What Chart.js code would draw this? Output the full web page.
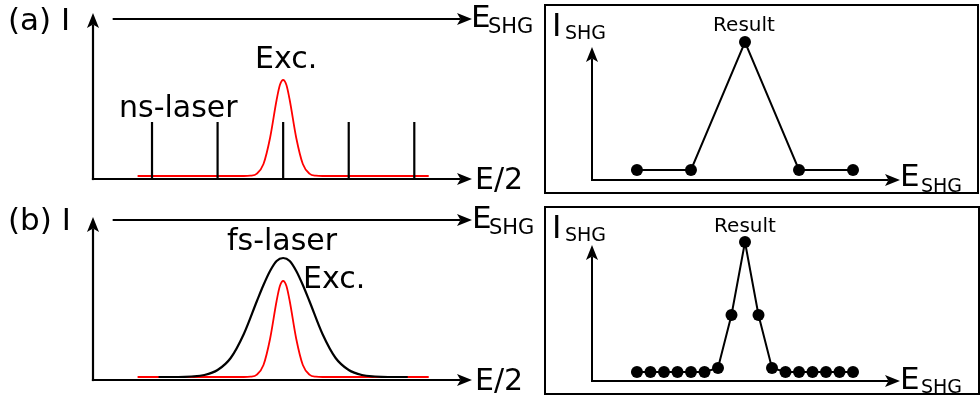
<!DOCTYPE html>
<html>
<head>
<meta charset="utf-8">
<script src="https://cdn.jsdelivr.net/npm/chart.js@4.4.0/dist/chart.umd.min.js"></script>
<style>
html, body { margin: 0; padding: 0; background: #fff; }
#wrap { position: relative; width: 980px; height: 397px; overflow: hidden; }
#wrap canvas { position: absolute; left: 0; top: 0; }
.box { position: absolute; border: 2px solid #000; box-sizing: border-box; }
</style>
</head>
<body>
<div id="wrap">
  <div class="box" style="left:544px;top:4px;width:435px;height:190px"></div>
  <div class="box" style="left:544px;top:206px;width:436px;height:189px"></div>
  <canvas id="nsChart" width="980" height="397"></canvas>
  <canvas id="fsChart" width="980" height="397"></canvas>
  <canvas id="resultA" width="980" height="397"></canvas>
  <canvas id="resultB" width="980" height="397"></canvas>
</div>
<script>
// (a) ns-laser: narrow laser lines on the E/2 axis
const nsLineX = [1, 2, 3, 4, 5];
const nsLineHeight = [0.57, 0.57, 0.57, 0.57, 0.57];

// excitation (red) peak, same in (a) and (b)
const excX = [0.78, 2.4, 2.5, 2.6, 2.7, 2.8, 2.9, 2.95, 3.0, 3.05, 3.1, 3.2, 3.3, 3.4, 3.5, 3.6, 5.22];
const excY = [0.03, 0.03, 0.033, 0.054, 0.15, 0.41, 0.79, 0.94, 0.99, 0.94, 0.79, 0.41, 0.15, 0.054, 0.033, 0.03, 0.03];

// (b) fs-laser: broad pulse spectrum
const fsX = [1.1, 1.4, 1.6, 1.8, 2.0, 2.2, 2.4, 2.6, 2.7, 2.8, 2.9, 3.0, 3.1, 3.2, 3.3, 3.4, 3.6, 3.8, 4.0, 4.2, 4.4, 4.6, 4.9];
const fsY = [0.03, 0.03, 0.035, 0.05, 0.10, 0.22, 0.46, 0.79, 0.95, 1.09, 1.19, 1.22, 1.19, 1.09, 0.95, 0.79, 0.46, 0.22, 0.10, 0.05, 0.035, 0.03, 0.03];

// SHG results (right panels)
const resultAX = [0, 4, 8, 12, 16];
const resultAY = [0.10, 0.10, 1.38, 0.10, 0.10];
const resultBX = [0, 1, 2, 3, 4, 5, 6, 7, 8, 9, 10, 11, 12, 13, 14, 15, 16];
const resultBY = [0.09, 0.09, 0.09, 0.09, 0.09, 0.09, 0.13, 0.66, 1.39, 0.66, 0.13, 0.09, 0.09, 0.09, 0.09, 0.09, 0.09];

const FONT = '"DejaVu Sans", "Noto Sans", sans-serif';

function pts(xs, ys) {
    return xs.map((x, i) => ({ x: x, y: ys[i] }));
}

function drawArrow(ctx, x0, y0, x1, y1, lw) {
    const len = Math.hypot(x1 - x0, y1 - y0);
    const ux = (x1 - x0) / len, uy = (y1 - y0) / len;
    const nx = -uy, ny = ux;
    const L = 15, W = 6, N = 3.5;
    ctx.lineWidth = lw;
    ctx.beginPath();
    ctx.moveTo(x0, y0);
    ctx.lineTo(x1 - ux * (L - N), y1 - uy * (L - N));
    ctx.stroke();
    ctx.beginPath();
    ctx.moveTo(x1, y1);
    ctx.lineTo(x1 - ux * L + nx * W, y1 - uy * L + ny * W);
    ctx.lineTo(x1 - ux * (L - N), y1 - uy * (L - N));
    ctx.lineTo(x1 - ux * L - nx * W, y1 - uy * L - ny * W);
    ctx.closePath();
    ctx.fill();
}

// area = pixel box of the axes, xr / yr = value range of the axes
function makePanel(id, area, xr, yr, datasets, extraArrows, labels, lw) {
    const canvas = document.getElementById(id);
    if (!canvas) {
        console.error("canvas não encontrado: " + id);
        return;
    }
    const axesPlugin = {
        id: 'arrowAxes',
        afterDraw(chart) {
            const ctx = chart.ctx;
            const a = chart.chartArea;
            const sx = chart.scales.x, sy = chart.scales.y;
            ctx.save();
            ctx.strokeStyle = '#000';
            ctx.fillStyle = '#000';
            drawArrow(ctx, a.left, a.bottom + lw / 2, a.left, a.top, lw);
            drawArrow(ctx, a.left - lw / 2, a.bottom, a.right, a.bottom, lw);
            extraArrows.forEach(e => {
                drawArrow(ctx, sx.getPixelForValue(e.x0), sy.getPixelForValue(e.y),
                    sx.getPixelForValue(e.x1), sy.getPixelForValue(e.y), lw);
            });
            labels.forEach(l => {
                ctx.font = l.size + 'px ' + FONT;
                ctx.textAlign = l.align || 'left';
                ctx.textBaseline = 'alphabetic';
                ctx.fillText(l.text, l.x, l.y);
            });
            ctx.restore();
        }
    };
    return new Chart(canvas.getContext('2d'), {
        type: 'line',
        data: { datasets: datasets },
        options: {
            responsive: false,
            animation: false,
            events: [],
            layout: {
                padding: { left: area.left, top: area.top, right: 980 - area.right, bottom: 397 - area.bottom }
            },
            plugins: { legend: { display: false }, tooltip: { enabled: false } },
            scales: {
                x: { type: 'linear', display: false, min: xr[0], max: xr[1] },
                y: { type: 'linear', display: false, min: yr[0], max: yr[1] }
            }
        },
        plugins: [axesPlugin]
    });
}

document.addEventListener("DOMContentLoaded", function () {
    // ns lines as separate vertical segments
    const nsData = [];
    nsLineX.forEach((x, i) => {
        nsData.push({ x: x, y: 0 }, { x: x, y: nsLineHeight[i] }, { x: x, y: null });
    });

    const excStyle = {
        borderColor: '#ff0000', borderWidth: 1.8,
        pointRadius: 0, cubicInterpolationMode: 'monotone', clip: false
    };

    makePanel('nsChart', { left: 93, top: 13, right: 472, bottom: 179 }, [0.1, 5.88], [0, 1.66], [
        { data: nsData, borderColor: '#000', borderWidth: 2.2, pointRadius: 0, spanGaps: false, clip: false },
        Object.assign({ data: pts(excX, excY) }, excStyle)
    ], [{ x0: 0.4, x1: 5.88, y: 1.60 }], [
        { text: '(a) I', x: 8, y: 30, size: 31 },
        { text: 'E', x: 471, y: 27, size: 31 },
        { text: 'SHG', x: 488, y: 33, size: 21 },
        { text: 'E/2', x: 475, y: 189, size: 30 },
        { text: 'ns-laser', x: 119, y: 117, size: 30 },
        { text: 'Exc.', x: 255, y: 68, size: 30 }
    ], 2.2);

    makePanel('fsChart', { left: 93, top: 217, right: 472, bottom: 380 }, [0.1, 5.88], [0, 1.63], [
        { data: pts(fsX, fsY), borderColor: '#000', borderWidth: 2.2, pointRadius: 0,
          cubicInterpolationMode: 'monotone', clip: false },
        Object.assign({ data: pts(excX, excY) }, excStyle)
    ], [{ x0: 0.4, x1: 5.88, y: 1.60 }], [
        { text: '(b) I', x: 8, y: 230, size: 31 },
        { text: 'E', x: 472, y: 228, size: 31 },
        { text: 'SHG', x: 489, y: 234, size: 21 },
        { text: 'E/2', x: 475, y: 390, size: 30 },
        { text: 'fs-laser', x: 227, y: 250, size: 30 },
        { text: 'Exc.', x: 303, y: 288, size: 30 }
    ], 2.2);

    const dotStyle = {
        borderColor: '#000', borderWidth: 2, pointRadius: 6,
        pointBackgroundColor: '#000', pointBorderWidth: 0, tension: 0, clip: false
    };

    makePanel('resultA', { left: 592, top: 47, right: 900, bottom: 180 }, [-3.33, 19.48], [0, 1.33], [
        Object.assign({ data: pts(resultAX, resultAY) }, dotStyle)
    ], [], [
        { text: 'I', x: 552, y: 36, size: 32 },
        { text: 'SHG', x: 565, y: 39, size: 19 },
        { text: 'Result', x: 744, y: 31, size: 20, align: 'center' },
        { text: 'E', x: 900, y: 186, size: 31 },
        { text: 'SHG', x: 921, y: 192, size: 19 }
    ], 2);

    makePanel('resultB', { left: 592, top: 245, right: 900, bottom: 381 }, [-3.33, 19.48], [0, 1.36], [
        Object.assign({ data: pts(resultBX, resultBY) }, dotStyle)
    ], [], [
        { text: 'I', x: 552, y: 238, size: 32 },
        { text: 'SHG', x: 565, y: 241, size: 19 },
        { text: 'Result', x: 745, y: 232, size: 20, align: 'center' },
        { text: 'E', x: 900, y: 389, size: 31 },
        { text: 'SHG', x: 921, y: 393, size: 19 }
    ], 2);
});
</script>
</body>
</html>
